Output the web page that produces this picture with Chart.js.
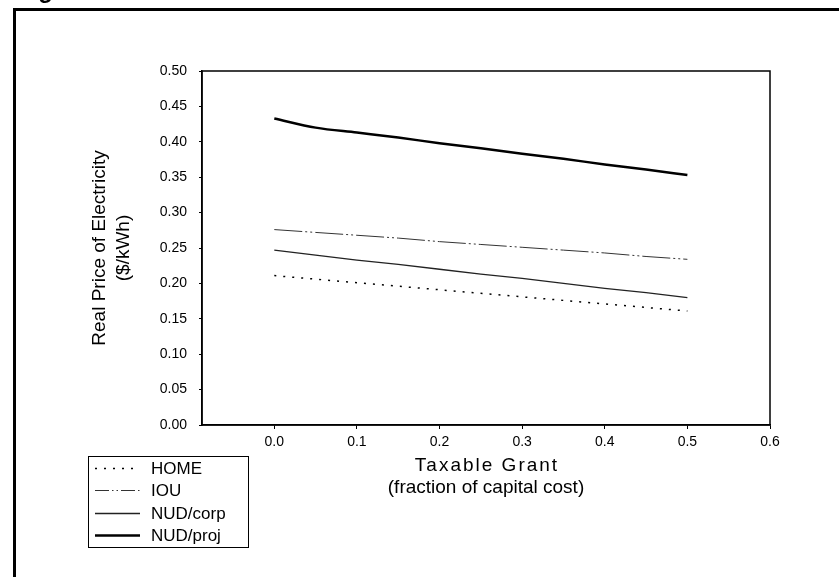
<!DOCTYPE html>
<html>
<head>
<meta charset="utf-8">
<script src="https://cdn.jsdelivr.net/npm/chart.js@4/dist/chart.umd.min.js"></script>
<style>
html,body{margin:0;padding:0;background:#fff;}
canvas{display:block;}
</style>
</head>
<body>
<canvas id="c" width="839" height="577"></canvas>
<script>
// Data
const grantFractions = [0, 0.05, 0.1, 0.15, 0.2, 0.25, 0.3, 0.35, 0.4, 0.45, 0.5];
const homePrice    = [0.211, 0.206, 0.201, 0.196, 0.191, 0.186, 0.181, 0.176, 0.171, 0.166, 0.161];
const iouPrice     = [0.276, 0.272, 0.268, 0.264, 0.259, 0.255, 0.251, 0.247, 0.243, 0.238, 0.234];
const nudCorpPrice = [0.247, 0.240, 0.233, 0.227, 0.220, 0.213, 0.207, 0.200, 0.193, 0.187, 0.180];
const nudProjPrice = [0.433, 0.420, 0.413, 0.406, 0.398, 0.391, 0.383, 0.376, 0.368, 0.361, 0.353];
const seriesLabels = ['HOME', 'IOU', 'NUD/corp', 'NUD/proj'];
const xTickValues = [0, 0.1, 0.2, 0.3, 0.4, 0.5, 0.6];
const yTitleLines = ['Real Price of Electricity', '($/kWh)'];
const xTitleLines = ['Taxable Grant', '(fraction of capital cost)'];
const figureTitle = 'Figure';

const toPts = arr => arr.map((v, i) => ({x: grantFractions[i], y: v}));
const FONT = '"Liberation Sans", Arial, Helvetica, sans-serif';

const decor = {
  id: 'decor',
  afterDraw(chart) {
    const ctx = chart.ctx;
    const a = chart.chartArea;
    ctx.save();
    // outer frame (top and left)
    ctx.fillStyle = '#000';
    ctx.fillRect(13, 8, 826, 3);
    ctx.fillRect(13, 8, 3, 569);
    // cut-off figure title
    ctx.font = 'bold 24px ' + FONT;
    ctx.textBaseline = 'alphabetic';
    ctx.textAlign = 'left';
    ctx.fillText(figureTitle, 17, -2);
    // plot box
    ctx.strokeStyle = '#000';
    ctx.lineWidth = 1.5;
    ctx.strokeRect(a.left, a.top, a.right - a.left, a.bottom - a.top);
    // y title
    ctx.font = '19px ' + FONT;
    ctx.textAlign = 'center';
    ctx.textBaseline = 'middle';
    const cy = (a.top + a.bottom) / 2;
    ctx.save();
    ctx.translate(100, cy);
    ctx.rotate(-Math.PI / 2);
    ctx.fillText(yTitleLines[0], 0, 0);
    ctx.restore();
    ctx.save();
    ctx.translate(124, cy);
    ctx.rotate(-Math.PI / 2);
    ctx.fillText(yTitleLines[1], 0, 0);
    ctx.restore();
    // x title
    const cx = (a.left + a.right) / 2;
    ctx.save();
    ctx.letterSpacing = '2px';
    ctx.fillText(xTitleLines[0], cx + 1, 466);
    ctx.restore();
    ctx.fillText(xTitleLines[1], cx, 488);
    // legend
    ctx.lineWidth = 1;
    ctx.strokeStyle = '#000';
    ctx.strokeRect(88.5, 456.5, 160, 91);
    const rows = [468, 490, 513, 535];
    ctx.font = '17px ' + FONT;
    ctx.textAlign = 'left';
    chart.data.datasets.forEach((ds, i) => {
      const y = rows[i] + 0.5;
      ctx.save();
      ctx.strokeStyle = ds.borderColor;
      ctx.lineWidth = ds.borderWidth;
      ctx.setLineDash(ds.legendDash || ds.borderDash || []);
      ctx.beginPath();
      ctx.moveTo(95, y);
      ctx.lineTo(140, y);
      ctx.stroke();
      ctx.restore();
      ctx.fillStyle = '#000';
      ctx.fillText(ds.label, 151, rows[i] + 1);
    });
    ctx.restore();
  }
};

new Chart(document.getElementById('c'), {
  type: 'scatter',
  data: {
    datasets: [
      {label: seriesLabels[0], data: toPts(homePrice), showLine: true, borderColor: '#000', borderWidth: 1.5, borderDash: [2, 7], legendDash: [2, 7], pointRadius: 0},
      {label: seriesLabels[1], data: toPts(iouPrice), showLine: true, borderColor: '#333', borderWidth: 1, borderDash: [28, 3, 2, 3, 2, 3], legendDash: [14, 3, 1.5, 3, 1.5, 3], pointRadius: 0},
      {label: seriesLabels[2], data: toPts(nudCorpPrice), showLine: true, borderColor: '#222', borderWidth: 1.3, pointRadius: 0},
      {label: seriesLabels[3], data: toPts(nudProjPrice), showLine: true, borderColor: '#000', borderWidth: 2.5, pointRadius: 0, cubicInterpolationMode: 'monotone'}
    ]
  },
  options: {
    responsive: false,
    animation: false,
    devicePixelRatio: 1,
    layout: {padding: {left: 0, right: 69, top: 71, bottom: 0}},
    plugins: {legend: {display: false}, tooltip: {enabled: false}, title: {display: false}},
    scales: {
      x: {
        type: 'linear',
        min: -0.0875,
        max: 0.6,
        afterBuildTicks: s => { s.ticks = xTickValues.map(v => ({value: v})); },
        afterFit: s => { s.height = 152; },
        grid: {display: true, drawOnChartArea: false, drawTicks: true, tickLength: 4, color: '#000', lineWidth: 1},
        border: {display: true, color: '#000', width: 1.5},
        ticks: {color: '#000', font: {family: FONT, size: 14}, padding: 5, maxRotation: 0, autoSkip: false,
                callback: v => Number(v).toFixed(1)}
      },
      y: {
        type: 'linear',
        min: 0,
        max: 0.5,
        afterFit: s => { s.width = 202; },
        grid: {display: true, drawOnChartArea: false, drawTicks: true, tickLength: 3, color: '#000', lineWidth: 1},
        border: {display: true, color: '#000', width: 1.5},
        ticks: {stepSize: 0.05, color: '#000', font: {family: FONT, size: 14}, padding: 12,
                callback: v => Number(v).toFixed(2)}
      }
    }
  },
  plugins: [decor]
});
</script>
</body>
</html>
